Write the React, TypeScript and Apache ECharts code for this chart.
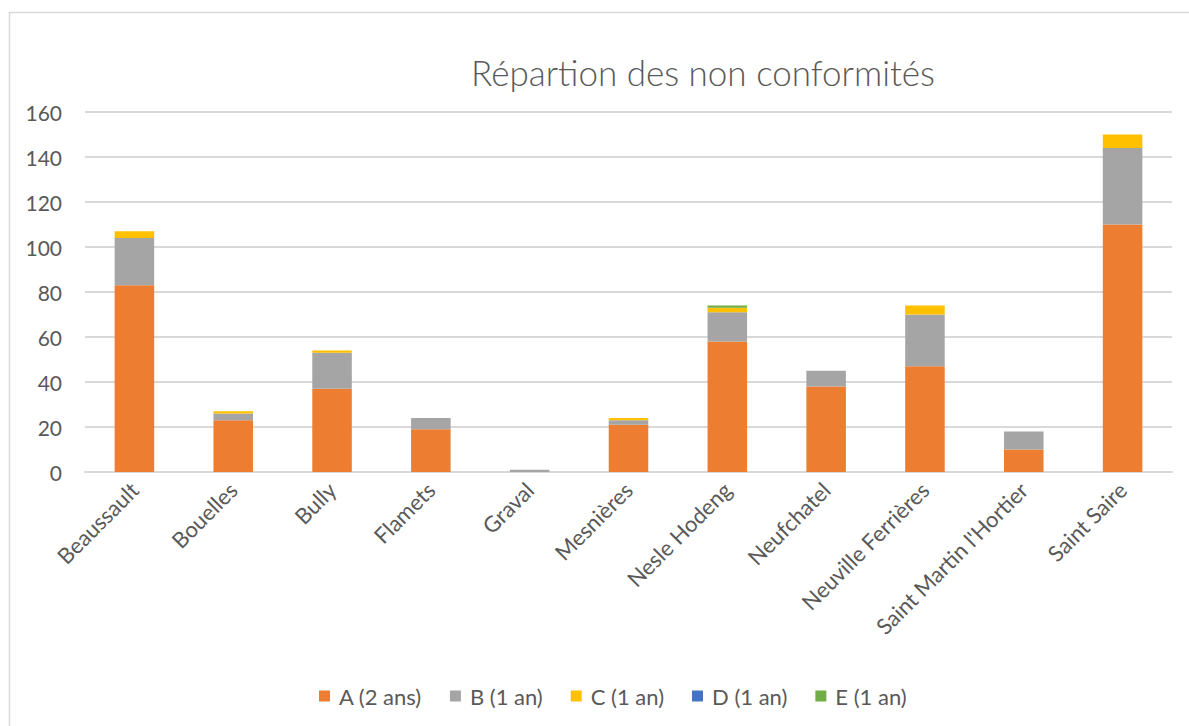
import React, { useEffect, useRef } from "react";
import * as echarts from "echarts";

const categories = [
  "Beaussault", "Bouelles", "Bully", "Flamets", "Graval", "Mesnières",
  "Nesle Hodeng", "Neufchatel", "Neuville Ferrières", "Saint Martin l'Hortier", "Saint Saire",
];
const seriesNames = ["A (2 ans)", "B (1 an)", "C (1 an)", "D (1 an)", "E (1 an)"];
const valuesA = [83, 23, 37, 19, 0, 21, 58, 38, 47, 10, 110];
const valuesB = [21, 3, 16, 5, 1, 2, 13, 7, 23, 8, 34];
const valuesC = [3, 1, 1, 0, 0, 1, 2, 0, 4, 0, 6];
const valuesD = [0, 0, 0, 0, 0, 0, 0, 0, 0, 0, 0];
const valuesE = [0, 0, 0, 0, 0, 0, 1, 0, 0, 0, 0];
const colors = ["#ED7D31", "#A5A5A5", "#FFC000", "#4472C4", "#70AD47"];

const FONT = "Lato, 'Open Sans', sans-serif";

export default function App() {
  const ref = useRef<HTMLDivElement>(null);
  useEffect(() => {
    if (!ref.current) return;
    const chart = echarts.init(ref.current, undefined, { renderer: "svg" });
    const all = [valuesA, valuesB, valuesC, valuesD, valuesE];
    chart.setOption({
      animation: false,
      backgroundColor: "#ffffff",
      color: colors,
      title: {
        text: "Répartion des non conformités",
        left: 698,
        top: 49,
        textAlign: "center",
        textStyle: { fontFamily: FONT, fontSize: 35, fontWeight: 300, color: "#595959" },
      },
      graphic: [
        {
          type: "rect",
          shape: { x: 9.5, y: 12.5, width: 1200, height: 800 },
          style: { fill: "none", stroke: "#d9d9d9", lineWidth: 1.5 },
          silent: true,
        },
      ],
      legend: {
        left: 314,
        top: 680,
        itemWidth: 11,
        itemHeight: 11,
        itemGap: 28,
        icon: "rect",
        textStyle: { fontFamily: FONT, fontSize: 22, color: "#595959", padding: [0, 0, 0, 4] },
        data: seriesNames,
      },
      grid: { left: 85, right: 17, top: 112, bottom: 254, containLabel: false },
      xAxis: {
        type: "category",
        data: categories,
        axisLine: { lineStyle: { color: "#d9d9d9", width: 2 } },
        axisTick: { show: false },
        axisLabel: {
          rotate: 45,
          interval: 0,
          margin: 14,
          fontFamily: FONT,
          fontSize: 22,
          color: "#595959",
        },
      },
      yAxis: {
        type: "value",
        min: 0,
        max: 160,
        interval: 20,
        axisLine: { show: false },
        axisTick: { show: false },
        splitLine: { lineStyle: { color: "#d9d9d9", width: 2 } },
        axisLabel: { margin: 23, fontFamily: FONT, fontSize: 21, color: "#595959" },
      },
      series: all.map((vals, i) => ({
        name: seriesNames[i],
        type: "bar",
        stack: "total",
        barWidth: "40%",
        data: vals,
        itemStyle: { color: colors[i] },
      })),
    });
    return () => chart.dispose();
  }, []);
  return (
    <div
      ref={ref}
      style={{ position: "fixed", left: 0, top: 0, width: 1189, height: 726 }}
    />
  );
}
